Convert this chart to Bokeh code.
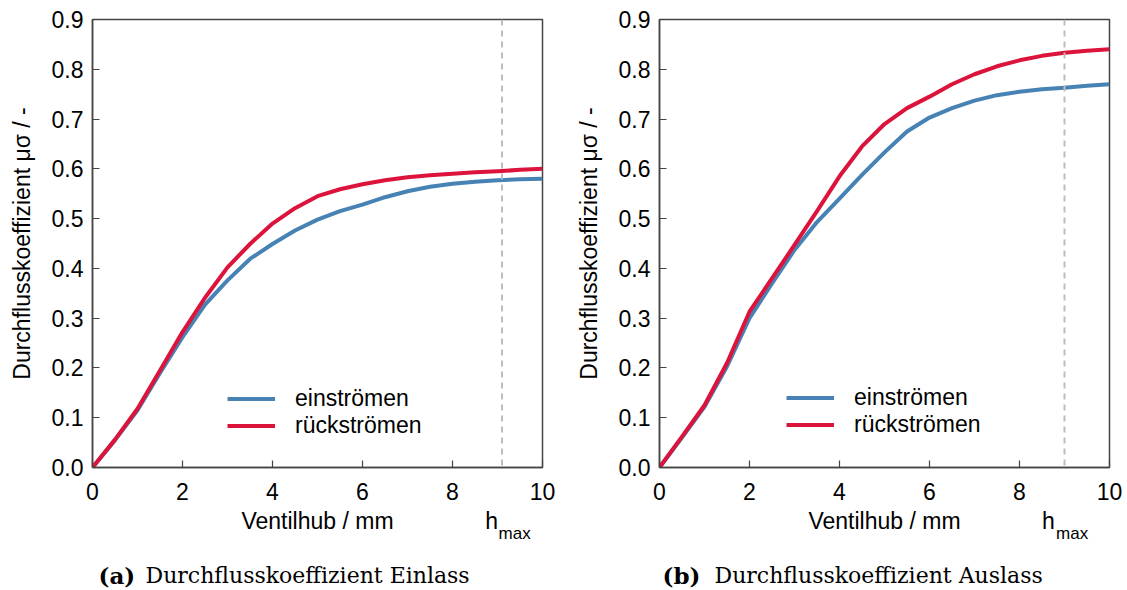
from bokeh.plotting import figure
from bokeh.layouts import row, column
from bokeh.models import (Range1d, FixedTicker, PrintfTickFormatter, Span, LinearAxis,
                          CustomJSTickFormatter, ColumnDataSource)
from bokeh.core.properties import value
from bokeh.embed import file_html
from bokeh.resources import INLINE

# ---- data ----
hub = [0, 0.5, 1, 1.5, 2, 2.5, 3, 3.5, 4, 4.5, 5, 5.5, 6, 6.5, 7, 7.5, 8, 8.5, 9, 9.5, 10]

ein_einstroemen = [0, 0.055, 0.115, 0.19, 0.262, 0.327, 0.376, 0.419, 0.449, 0.476, 0.498,
                   0.515, 0.528, 0.543, 0.555, 0.564, 0.57, 0.574, 0.577, 0.579, 0.58]
ein_rueckstroemen = [0, 0.056, 0.118, 0.195, 0.272, 0.341, 0.402, 0.449, 0.49, 0.521, 0.545,
                     0.559, 0.569, 0.577, 0.583, 0.587, 0.59, 0.593, 0.595, 0.598, 0.6]

aus_einstroemen = [0, 0.06, 0.122, 0.203, 0.30, 0.37, 0.437, 0.493, 0.54, 0.588, 0.633,
                   0.675, 0.703, 0.722, 0.737, 0.748, 0.755, 0.76, 0.763, 0.767, 0.77]
aus_rueckstroemen = [0, 0.062, 0.125, 0.21, 0.313, 0.38, 0.447, 0.515, 0.585, 0.645, 0.69,
                     0.722, 0.745, 0.77, 0.79, 0.806, 0.818, 0.827, 0.833, 0.837, 0.84]

hmax_ein = 9.1
hmax_aus = 9.0

y_ticks = [0.0, 0.1, 0.2, 0.3, 0.4, 0.5, 0.6, 0.7, 0.8, 0.9]
x_ticks = [0, 2, 4, 6, 8, 10]

series_labels = ["einströmen", "rückströmen"]
cap_tags = ["(a)", "(b)"]
cap_texts = ["Durchflusskoeffizient Einlass", "Durchflusskoeffizient Auslass"]
x_label = "Ventilhub / mm"
y_label = "Durchflusskoeffizient μσ / -"
hmax_main = "h"
hmax_sub = "max"

BLUE = "#4682B4"
RED = "#DC143C"
SANS = "Liberation Sans"
SERIF = "DejaVu Serif"
FRAME = "#444444"


def label_axis(positions, labels, size, standoff):
    ax = LinearAxis(ticker=FixedTicker(ticks=positions),
                    formatter=CustomJSTickFormatter(args=dict(labels=labels),
                                                    code="return labels[index]"))
    ax.axis_line_color = None
    ax.major_tick_line_color = None
    ax.minor_tick_line_color = None
    ax.major_tick_in = 0
    ax.major_tick_out = 0
    ax.major_label_standoff = standoff
    ax.major_label_text_font = SANS
    ax.major_label_text_font_size = size
    ax.major_label_text_color = "black"
    return ax


def make_panel(width, border_left, border_right, ys_blue, ys_red, hmax, h_off, sub_off, leg_loc):
    p = figure(width=width, height=546, output_backend="svg", toolbar_location=None,
               x_range=Range1d(0, 10), y_range=Range1d(0, 0.9),
               min_border_left=border_left, min_border_right=border_right,
               min_border_top=19, min_border_bottom=79)
    p.grid.visible = False
    p.outline_line_color = FRAME
    p.outline_line_width = 1.5

    p.line(hub, ys_blue, line_color=BLUE, line_width=4, line_join="round",
           legend_label=series_labels[0])
    p.line(hub, ys_red, line_color=RED, line_width=4, line_join="round",
           legend_label=series_labels[1])

    p.add_layout(Span(location=hmax, dimension="height", line_color="#BDBDBD",
                      line_width=2, line_dash="6 5"))

    for ax in (p.xaxis[0], p.yaxis[0]):
        ax.axis_line_color = FRAME
        ax.axis_line_width = 1.5
        ax.major_tick_line_color = FRAME
        ax.major_tick_line_width = 1.2
        ax.major_tick_in = 7
        ax.major_tick_out = 0
        ax.minor_tick_line_color = None
        ax.major_label_text_font = SANS
        ax.major_label_text_font_size = "23px"
        ax.major_label_text_color = "black"
        ax.axis_label_text_font = SANS
        ax.axis_label_text_font_size = "23px"
        ax.axis_label_text_font_style = "normal"
        ax.axis_label_text_color = "black"

    p.xaxis[0].ticker = FixedTicker(ticks=x_ticks)
    p.xaxis[0].major_label_standoff = 15

    p.yaxis[0].ticker = FixedTicker(ticks=y_ticks)
    p.yaxis[0].formatter = PrintfTickFormatter(format="%.1f")
    p.yaxis[0].major_label_standoff = 9
    p.yaxis[0].axis_label = y_label
    p.yaxis[0].axis_label_standoff = 14

    # second row below the axis: axis title and h_max marker
    p.add_layout(label_axis([5, hmax + h_off], [x_label, hmax_main], "23px", 5), "below")
    # subscript "max"
    p.add_layout(label_axis([hmax + sub_off], [hmax_sub], "17px", -13), "below")

    lg = p.legend[0]
    lg.location = leg_loc
    lg.padding = 0
    lg.margin = 0
    lg.spacing = 0
    lg.glyph_width = 48
    lg.glyph_height = 25
    lg.label_height = 25
    lg.label_standoff = 20
    lg.label_text_font = SANS
    lg.label_text_font_size = "23px"
    lg.label_text_color = "black"
    lg.border_line_alpha = 0
    lg.background_fill_alpha = 0
    return p


p1 = make_panel(572, 92, 30, ein_einstroemen, ein_rueckstroemen, hmax_ein, -0.23, 0.28, (135, 28))
p2 = make_panel(553, 87, 16, aus_einstroemen, aus_rueckstroemen, hmax_aus, -0.36, 0.17, (127, 29))

# caption strip
cap = figure(width=1125, height=42, output_backend="svg", toolbar_location=None,
             x_range=Range1d(0, 1125), y_range=Range1d(0, 42),
             x_axis_type=None, y_axis_type=None, title=None,
             min_border=0, min_border_left=0, min_border_right=0,
             min_border_top=0, min_border_bottom=0)
cap.grid.visible = False
cap.outline_line_color = None
tag_src = ColumnDataSource(dict(x=[98, 662], y=[13, 13], t=cap_tags))
txt_src = ColumnDataSource(dict(x=[145, 714], y=[13, 13], t=cap_texts))
cap.text(x="x", y="y", text="t", source=tag_src, text_font=value(SERIF),
         text_font_size="23px", text_font_style="bold", text_color="black",
         text_align="left", text_baseline="alphabetic")
cap.text(x="x", y="y", text="t", source=txt_src, text_font=value(SERIF),
         text_font_size="22px", text_color="black",
         text_align="left", text_baseline="alphabetic")

layout = column(row(p1, p2), cap)
open("out.html", "w").write(file_html(layout, INLINE))
